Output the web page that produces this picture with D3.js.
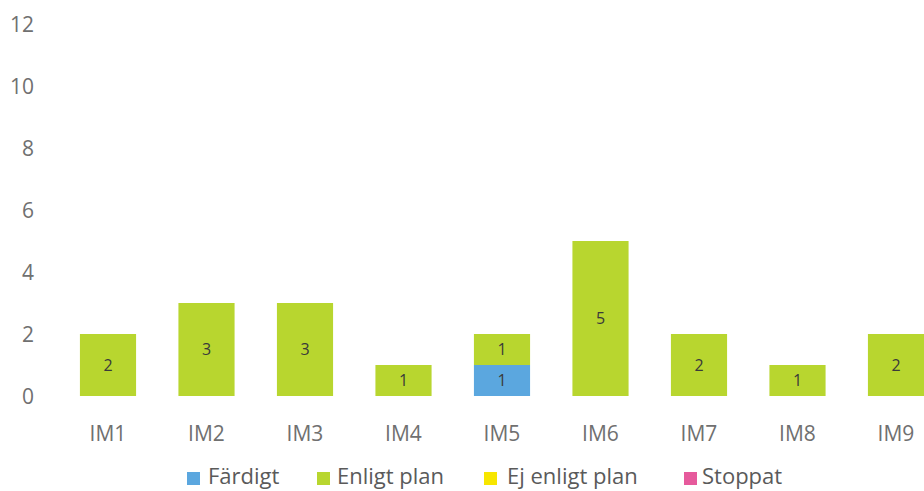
<!DOCTYPE html>
<html><head><meta charset="utf-8">
<script src="https://cdn.jsdelivr.net/npm/d3@7"></script>
<style>body{margin:0;background:#fff}svg{display:block}text{font-family:"Open Sans",Lato,sans-serif}</style>
</head><body><svg id="c" width="924" height="491"></svg>
<script>
const categories=["IM1","IM2","IM3","IM4","IM5","IM6","IM7","IM8","IM9"];
const seriesNames=["Färdigt","Enligt plan","Ej enligt plan","Stoppat"];
const fardigt=[0,0,0,0,1,0,0,0,0];
const enligtPlan=[2,3,3,1,1,5,2,1,2];
const ejEnligtPlan=[0,0,0,0,0,0,0,0,0];
const stoppat=[0,0,0,0,0,0,0,0,0];
const yTicks=[0,2,4,6,8,10,12];
const colors=["#5ba7df","#b8d62f","#f7e600","#e65a9c"];

const svg=d3.select("#c");
const rows=categories.map((c,i)=>({cat:c,"Färdigt":fardigt[i],"Enligt plan":enligtPlan[i],"Ej enligt plan":ejEnligtPlan[i],"Stoppat":stoppat[i]}));
const x=d3.scaleBand().domain(categories).range([58.75,945.25]).paddingInner(0.43).paddingOuter(0.215);
const y=d3.scaleLinear().domain([0,12]).range([396,24]);
const stack=d3.stack().keys(seriesNames)(rows);

svg.append("g").selectAll("text").data(yTicks).join("text")
 .attr("x",34).attr("y",d=>y(d)).attr("dy","0.36em").attr("text-anchor","end")
 .attr("font-size",21).attr("fill","#707070").text(d=>d);

const g=svg.append("g");
stack.forEach((s,si)=>{
  g.selectAll(null).data(s.filter(d=>d[1]-d[0]>0)).join("rect")
   .attr("x",d=>x(d.data.cat)).attr("width",x.bandwidth())
   .attr("y",d=>y(d[1])).attr("height",d=>y(d[0])-y(d[1]))
   .attr("fill",colors[si]);
  g.selectAll(null).data(s.filter(d=>d[1]-d[0]>0)).join("text")
   .attr("x",d=>x(d.data.cat)+x.bandwidth()/2).attr("y",d=>(y(d[0])+y(d[1]))/2)
   .attr("dy","0.36em").attr("text-anchor","middle").attr("font-size",16).attr("fill","#3a3a3a")
   .text(d=>d[1]-d[0]);
});

svg.append("g").selectAll("text").data(categories).join("text")
 .attr("x",d=>x(d)+x.bandwidth()/2).attr("y",433).attr("dy","0.36em").attr("text-anchor","middle")
 .attr("font-size",21).attr("fill","#707070").text(d=>d);

const legSq=[187,317,484,684];
const legTx=[208,337,507,702];
const lg=svg.append("g");
seriesNames.forEach((n,i)=>{
  lg.append("rect").attr("x",legSq[i]).attr("y",472).attr("width",13).attr("height",13).attr("fill",colors[i]);
  lg.append("text").attr("x",legTx[i]).attr("y",484).attr("font-size",22).attr("fill","#5a5a5a").text(n);
});
</script></body></html>
